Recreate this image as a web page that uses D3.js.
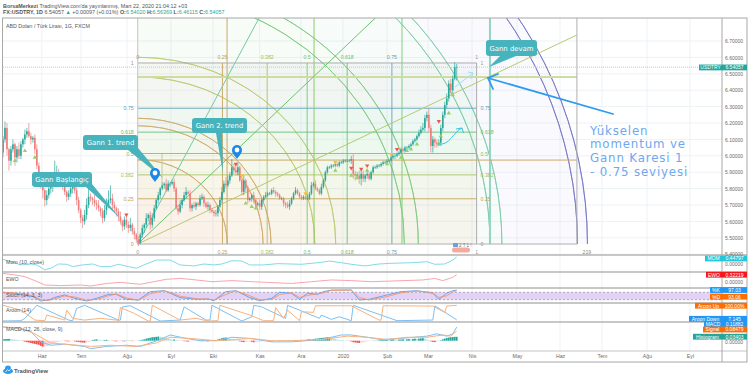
<!DOCTYPE html>
<html>
<head>
<meta charset="utf-8">
<script src="https://cdn.jsdelivr.net/npm/d3@7"></script>
<style>
  html, body { margin: 0; padding: 0; background: #fff; }
  svg { display: block; font-family: "Liberation Sans", Arial, sans-serif; }
  .axis-price path, .axis-price line, .axis-time path, .axis-time line { stroke: none; }
  .axis-price text, .axis-time text { fill: #6a6a6a; }
</style>
</head>
<body>
<div id="chart"></div>
<script>
// candles
const closes = [
  6.10,6.17,6.04,5.97,6.04,6.07,5.99,6.04,6.00,6.07,6.10,6.13,6.15,6.12,6.10,6.11,
  6.04,5.94,5.88,5.82,5.79,5.73,5.76,5.80,5.82,5.85,5.88,5.90,5.86,
  5.84,5.82,5.78,5.75,5.77,5.80,5.82,5.79,5.73,5.67,5.62,5.60,5.64,5.70,5.75,
  5.74,5.73,5.71,5.70,5.68,5.66,5.62,5.67,5.70,5.73,5.74,
  5.70,5.68,5.66,5.63,5.60,5.57,5.61,5.58,5.56,5.58,5.54,5.52,5.49,5.47,
  5.52,5.56,5.58,5.62,5.64,5.58,5.62,5.68,5.73,5.76,5.80,5.82,5.83,
  5.79,5.83,5.83,5.84,5.80,5.68,5.66,5.70,5.73,5.76,5.78,5.77,5.68,5.70,
  5.69,5.71,5.70,5.74,5.75,5.71,5.69,5.70,5.67,5.66,5.65,5.65,5.69,5.73,5.78,
  5.83,5.82,5.85,5.88,5.93,5.91,5.90,5.93,5.85,5.78,5.85,5.80,5.73,5.74,5.76,
  5.73,5.70,5.71,5.69,5.73,5.75,5.76,5.77,5.77,5.79,5.78,5.77,5.76,5.74,5.74,
  5.71,5.70,5.69,5.71,5.74,5.77,5.79,5.77,5.75,5.74,5.75,5.74,5.74,5.77,5.82,5.83,
  5.80,5.79,5.77,5.81,5.85,5.90,5.93,5.93,5.94,5.94,5.95,5.94,5.96,5.96,5.97,5.97,
  5.97,5.97,5.98,5.89,5.88,5.88,5.86,5.89,5.86,5.88,5.89,5.86,5.90,5.93,
  5.93,5.94,5.94,5.95,5.96,5.96,5.97,5.97,5.99,6.00,6.00,6.01,
  6.02,6.04,6.03,6.05,6.05,6.06,6.07,6.09,6.10,6.12,6.14,6.16,
  6.17,6.23,6.25,6.17,6.06,6.10,6.08,6.07,6.08,6.17,6.25,6.31,
  6.35,6.44,6.40,6.47,6.54,6.54057
];
// wick lengths above/below the body, in hundredths of a lira
const wickUp = [
  2,4,3,1,2,3,1,2,4,2, 1,3,2,5,2,1,2,3,2,1, 2,1,3,2,4,3,9,4,2,3, 2,3,1,2,4,2,1,3,2,1,
  2,3,4,5,2,1,3,2,3,1, 2,3,4,6,8,3,2,1,2,3, 1,2,3,2,4,1,2,1,2,1, 2,1,3,1,2,3,2,1,2,1,
  2,1,3,2,1,1,2,1,2,3, 1,2,3,1,2,1,2,1,1,2, 2,1,1,2,1,1,1,2,1,2, 3,2,4,3,2,5,2,4,3,1,
  1,3,1,2,1,1,2,1,1,2, 1,1,2,1,1,1,2,1,1,1, 1,1,1,2,2,1,1,2,1,1, 1,1,1,2,1,2,1,2,1,1,
  2,1,1,1,1,1,1,1,1,1, 1,1,1,1,1,2,3,2,2,3, 2,2,1,2,1,1,1,1,1,1, 1,1,1,1,1,1,1,1,1,1,
  1,1,1,1,1,1,1,1,1,2, 2,3,2,2,4,2,2,1,2,2, 2,2,2,3,2,3,2,3,2
];
const wickDown = [
  3,2,4,6,3,2,5,3,2,2, 2,3,2,1,3,2,3,2,3,2, 5,4,3,2,3,4,3,2,3,2, 3,2,3,2,2,3,2,3,2,3,
  4,2,3,2,2,3,2,3,2,3, 3,2,3,2,2,3,2,3,3,2, 3,2,2,3,2,2,3,2,2,1, 2,3,2,2,3,2,2,1,2,2,
  1,2,1,1,2,1,2,1,2,1, 2,1,2,1,2,2,1,2,1,1, 1,2,1,2,2,1,2,2,2,1, 2,1,2,1,2,1,2,2,2,1,
  2,2,2,2,1,2,2,2,1,2, 2,1,1,1,1,1,1,2,1,1, 1,2,2,1,2,1,1,1,1,1, 1,1,1,1,1,1,1,1,1,1,
  1,1,1,1,1,1,1,1,1,1, 1,1,1,1,1,2,3,3,2,3, 4,2,2,2,1,1,1,1,1,1, 1,1,1,1,1,1,1,2,1,1,
  1,1,1,1,1,1,1,1,1,1, 1,1,2,2,2,4,4,3,2,1, 2,2,2,2,2,2,2,1,8
];

// axis ticks
const priceTicks = [5.4,5.5,5.6,5.7,5.8,5.9,6.0,6.1,6.2,6.3,6.4,6.5,6.6,6.7];
const monthLabels = ['Haz','Tem','Ağu','Eyl','Eki','Kas','Ara','2020','Şub','Mar','Nis','May','Haz','Tem','Ağu','Eyl'];
const monthBars = [19.5,39.2,62.3,84.4,105.5,129,149.7,170.8,193,213.6,235.7,258.3,279.9,301,323.6,345.2];

// signal markers on the candles
const upBars = [6,11,16,122,125,127,167,175,178,183,193,200,203,205,208,219,220,224,226];
const upPrices = [5.97,6.03,5.99,5.71,5.69,5.68,5.91,5.88,5.865,5.91,5.95,5.99,6.03,6.04,6.07,6.07,6.12,6.26,6.37];
const downBars = [62,117,175,180,183,198,219];
const downPrices = [5.64,5.95,5.925,5.92,5.94,6.04,6.21];
const dotBars = [120,152,167,195];
const dotPrices = [5.88,5.77,5.96,6.01];

// gann box and fib speed arcs
const gannLevels = [0,0.25,0.382,0.5,0.618,0.75,1];
const gannLabels = ['0','0.25','0.382','0.5','0.618','0.75','1'];
const gannColors = ['#9a9a9a','#c4a15a','#a3bf5a','#6fc46f','#62bd78','#5c9fb5','#9a9a9a'];
const gannBands = ['#e8c9a0','#dcd89a','#c8e2a4','#b2e2bf','#b0dfd2','#ccd6de'];
const fanEndPrices = [10.45,8.01,6.737];
const fanColors = ['#74c9a3','#6cc46c','#b3cc72'];
const speedBars = [112.6,156.3,200.5,244.7];
const speedColors = ['#cda766','#8fcb6a','#7fce7f','#93d6c0'];
const speedWidths = [1,1,1,2];
const arcBars = [45,63,67,89,99.5,134,141,177,183,221,226];
const arcColors = ['#cda766','#cda766','#cda766','#b6c96c','#b6c96c','#78c878','#78c878','#74c9a3','#74c9a3','#6f6fc4','#6f6fc4'];
const arcFills = ['#e8b98a','#f0e0a0','#e8b98a','#d8e09a','#d8e09a','#a8e0a8','#a8e0a8','#a5e0cc','#a5e0cc','#c8c8f0','#c8c8f0'];

// lower panes, sampled along the bars
const momBars = [0,4,9,14,17,21,24,28,32,35,40,45,49,54,58,63,67,72,77,81,84,89,96,101,106,110,115,120,124,131,138,150,160,164,170,175,182,189,195,206,213,217,222,226,228];
const momValues = [.30,.16,-.04,.02,-.04,-.34,-.24,.02,0,-.14,-.04,.02,-.14,-.14,0,-.14,-.24,.02,.26,.26,.26,-.04,-.10,.02,-.04,.02,.22,.20,-.04,-.04,.04,0,.12,.20,.10,0,-.10,.02,.06,.10,.16,0,.02,.26,.44797];
const ewoBars = [0,6,11,16,21,29,39,44,52,59,69,82,89,94,105,115,125,132,145,155,165,175,185,195,211,217,221,226,228];
const ewoValues = [.38,.31,.23,.05,-.15,-.18,-.15,-.20,-.08,-.03,-.12,.11,.15,.11,0,.05,0,-.03,-.08,0,.08,.05,0,.03,.08,.15,.05,.20,.32219];
const stochBars = [0,5,10,15,19,23,26,31,36,42,47,53,57,62,68,74,81,85,89,98,103,106,112,117,124,129,135,139,145,149,153,158,161,165,175,179,184,193,200,208,216,219,223,226,228];
const stochK = [77,72,58,45,10,18,39,58,31,10,31,63,63,23,18,85,93,66,37,23,26,12,85,93,37,12,31,80,72,23,72,63,85,98,98,18,23,58,85,93,72,23,72,93,97.03];
const stochD = [80,76,65,52,20,14,28,50,42,16,22,52,66,35,16,68,92,75,48,26,25,18,62,92,52,18,22,62,76,38,55,68,76,95,98,38,18,45,76,90,78,38,52,82,93.06];
const aroonDownBars = [0,9,11,17,33,35,37,41,58,59,60,64,79,89,91,102,104,105,120,125,126,130,142,143,159,160,165,169,175,176,198,216,217,228];
const aroonDown = [0,2,17,100,6,2,80,100,6,6,90,97,0,6,90,6,6,100,0,27,100,90,17,100,17,38,10,27,2,100,2,6,97,7.145];
const aroonUpBars = [0,9,16,21,22,31,32,35,41,49,57,58,59,66,73,74,75,89,97,103,108,109,124,131,136,137,141,143,149,150,156,157,175,189,190,191,216,222,223,228];
const aroonUp = [100,69,6,2,38,6,69,17,6,17,6,2,86,48,0,0,100,6,17,0,2,100,38,2,2,86,17,69,2,59,55,97,97,6,6,97,95,55,95,100];
const macdBars = [0,6,14,19,24,31,41,44,52,62,69,79,84,92,99,107,115,124,135,145,160,170,175,183,190,200,213,218,223,226,228];
const macdLine = [.12,.11,.08,-.01,-.04,-.03,-.05,-.07,-.05,-.04,-.05,.01,.05,.02,0,0,.03,.02,-.01,-.01,.01,.05,.05,.03,.01,.02,.04,.06,.04,.06,.11882];
const signalBars = [0,9,16,24,31,44,54,67,77,84,94,107,117,124,135,145,160,173,183,193,203,213,221,225,228];
const signalLine = [.12,.11,.06,-.02,-.03,-.05,-.04,-.05,-.02,.03,.02,0,.01,.02,0,0,.01,.04,.03,.01,.03,.03,.05,.04,.08479];
const histValues = [
  .012,.014,.015,.016,.014,.012,.010,.008,.006,.004,
  -.004,-.008,-.012,-.016,-.020,-.024,-.028,-.032,-.036,-.045,
  -.052,-.050,-.048,-.040,-.034,-.028,-.020,-.014,-.008,-.004,
  -.002,-.003,-.005,-.006,-.004,-.003,-.006,-.010,-.012,-.014,
  -.016,-.018,-.014,-.010,-.008,.006,.010,.012,.010,.006,
  .004,.006,.008,.006,.002,-.002,-.004,-.006,-.004,-.002,
  -.004,-.006,.002,.002,-.002,-.004,-.004,-.002,.002,.004,
  .008,.012,.018,.022,.026,.030,.032,.034,.036,.034,
  .032,.030,.026,.020,.014,.010,.010,.008,.006,.002,
  -.002,-.004,-.006,-.008,-.006,-.004,-.004,-.002,.002,-.002,
  -.004,-.002,-.004,-.006,-.004,-.002,.002,.006,.010,.016,
  .022,.026,.028,.024,.018,.012,.008,.004,-.002,-.006,
  -.010,-.012,-.010,-.008,-.006,-.010,-.014,-.012,-.010,-.008,
  -.006,-.004,.002,-.002,-.004,-.006,-.004,-.002,-.002,-.004,
  -.004,-.002,.002,.002,.004,.004,.002,-.002,-.002,.002,
  .004,.004,.006,.010,.014,.012,.014,.018,.018,.022,
  .024,.026,.028,.030,.030,.028,.022,.016,.010,.008,
  .006,.004,.002,.002,-.002,-.006,-.012,-.016,-.018,-.020,
  -.018,-.014,-.010,-.006,-.004,-.002,.002,.002,.002,.004,
  .006,.006,.008,.008,.006,.010,.012,.010,.008,.010,
  .010,.012,.008,.012,.014,.012,.016,.018,.016,.018,
  .020,.022,.018,.010,.004,-.006,-.010,-.012,-.008,-.004,
  .004,.012,.018,.024,.028,.030,.032,.034,.03403
];

const width = 750, height = 378;
const frameLeft = 3, axisX = 722, frameTop = 18, frameRight = 747, frameBottom = 362;
const panes = [255,272,288,303,322,351];

const svg = d3.select('#chart').append('svg').attr('width', width).attr('height', height);
const defs = svg.append('defs');
defs.append('clipPath').attr('id', 'main-clip').append('rect')
  .attr('x', frameLeft).attr('y', frameTop).attr('width', axisX - frameLeft).attr('height', panes[0] - frameTop);

const xBar = d3.scaleLinear().domain([0, 360]).range([frameLeft, frameLeft + 360 * 1.99]);
const yPrice = d3.scaleLinear().domain([5.4, 6.7]).range([254.2, 41]);
const yMom = d3.scaleLinear().domain([0, 0.448]).range([264.3, 257]);
const yEwo = d3.scaleLinear().domain([0, 0.322]).range([281.7, 274.7]);
const yStoch = d3.scaleLinear().domain([0, 100]).range([302.2, 289.8]);
const yAroon = d3.scaleLinear().domain([0, 100]).range([321, 305.3]);
const yMacd = d3.scaleLinear().domain([0, 0.0848]).range([340.7, 331]);

// grid
const grid = svg.append('g');
grid.selectAll('.vgrid').data(monthBars).enter().append('line')
  .attr('x1', d => xBar(d)).attr('x2', d => xBar(d))
  .attr('y1', frameTop).attr('y2', panes[5]).attr('stroke', '#edf2f6');
grid.selectAll('.hgrid').data(priceTicks).enter().append('line')
  .attr('x1', frameLeft).attr('x2', axisX)
  .attr('y1', d => yPrice(d)).attr('y2', d => yPrice(d)).attr('stroke', '#edf2f6');

// everything inside the price pane is clipped to it
const main = svg.append('g').attr('clip-path', 'url(#main-clip)');

const originBar = 67.7, originPrice = 5.462, boxEndBar = 238, boxTopPrice = 6.566, bigEndBar = 288.4;
const ox = xBar(originBar), oy = yPrice(originPrice);
const gx = d3.scaleLinear().domain([0, 1]).range([ox, xBar(boxEndBar)]);
const gy = d3.scaleLinear().domain([0, 1]).range([oy, yPrice(boxTopPrice)]);

// arc bands, squashed a little as in the drawing tool
const aspect = 1.06;
const ringFill = d3.arc().startAngle(0).endAngle(Math.PI / 2);
arcBars.forEach(function(b, i) {
  const r1 = xBar(b) - xBar(0);
  const r0 = i ? xBar(arcBars[i - 1]) - xBar(0) : 0;
  main.append('path')
    .attr('transform', `translate(${ox},${oy}) scale(1,${1 / aspect})`)
    .attr('d', ringFill({ innerRadius: r0, outerRadius: r1 }))
    .attr('fill', arcFills[i]).attr('fill-opacity', 0.09);
});

// gann box bands
gannBands.forEach(function(c, i) {
  main.append('rect').attr('x', ox).attr('width', gx(1) - ox)
    .attr('y', gy(gannLevels[i + 1])).attr('height', gy(gannLevels[i]) - gy(gannLevels[i + 1]))
    .attr('fill', c).attr('fill-opacity', 0.14);
});

// arcs outlines
arcBars.forEach(function(b, i) {
  const r = xBar(b) - xBar(0);
  main.append('path')
    .attr('transform', `translate(${ox},${oy}) scale(1,${1 / aspect})`)
    .attr('d', d3.arc().startAngle(0).endAngle(Math.PI / 2).innerRadius(r).outerRadius(r)())
    .attr('fill', 'none').attr('stroke', arcColors[i]).attr('stroke-width', 0.9).attr('stroke-opacity', 0.85);
});

// gann box grid
gannLevels.forEach(function(l, i) {
  if (l === 0) return;
  main.append('line').attr('x1', gx(l)).attr('x2', gx(l)).attr('y1', gy(1)).attr('y2', oy)
    .attr('stroke', i === 6 ? '#a0a0a0' : gannColors[i]).attr('stroke-opacity', 0.85);
  main.append('line').attr('x1', ox).attr('x2', gx(1)).attr('y1', gy(l)).attr('y2', gy(l))
    .attr('stroke', i === 6 ? '#a0a0a0' : gannColors[i]).attr('stroke-opacity', 0.85);
});

// speed box: verticals, long horizontals, edges
speedBars.forEach(function(b, i) {
  main.append('line').attr('x1', xBar(b)).attr('x2', xBar(b)).attr('y1', frameTop).attr('y2', oy)
    .attr('stroke', speedColors[i]).attr('stroke-width', speedWidths[i]);
});
main.append('line').attr('x1', ox).attr('x2', xBar(bigEndBar)).attr('y1', yPrice(5.974)).attr('y2', yPrice(5.974)).attr('stroke', '#cda766');
main.append('line').attr('x1', ox).attr('x2', xBar(bigEndBar)).attr('y1', yPrice(6.48)).attr('y2', yPrice(6.48)).attr('stroke', '#cfdca0').attr('stroke-width', 2);
main.append('line').attr('x1', ox).attr('x2', ox).attr('y1', frameTop).attr('y2', oy).attr('stroke', '#c4c4c4');
main.append('line').attr('x1', ox).attr('x2', xBar(bigEndBar)).attr('y1', oy).attr('y2', oy).attr('stroke', '#b0b0b0');
main.append('line').attr('x1', xBar(bigEndBar)).attr('x2', xBar(bigEndBar)).attr('y1', frameTop).attr('y2', oy).attr('stroke', '#b0b0b0');

// fan from the origin
fanEndPrices.forEach(function(p, i) {
  main.append('line').attr('x1', ox).attr('y1', oy)
    .attr('x2', xBar(bigEndBar)).attr('y2', yPrice(p))
    .attr('stroke', fanColors[i]);
});

// last price line
main.append('line').attr('x1', frameLeft).attr('x2', axisX)
  .attr('y1', yPrice(6.54057)).attr('y2', yPrice(6.54057))
  .attr('stroke', '#9fd8d2').attr('stroke-width', 1).attr('stroke-dasharray', '1,1');

// candles
const bars = closes.map(function(c, i) {
  const o = i ? closes[i - 1] : 6.02;
  return { i: i, o: o, c: c,
    h: Math.max(o, c) + wickUp[i] / 100,
    l: Math.min(o, c) - wickDown[i] / 100 };
});
const colorUp = '#2aa79b', colorDown = '#ee7d7d';
main.selectAll('.wick').data(bars).enter().append('line')
  .attr('x1', d => xBar(d.i)).attr('x2', d => xBar(d.i))
  .attr('y1', d => yPrice(d.h)).attr('y2', d => yPrice(d.l))
  .attr('stroke', d => d.c >= d.o ? colorUp : colorDown).attr('stroke-width', 0.7);
main.selectAll('.body').data(bars).enter().append('rect')
  .attr('x', d => xBar(d.i) - 0.8).attr('width', 1.6)
  .attr('y', d => yPrice(Math.max(d.o, d.c)))
  .attr('height', d => Math.max(0.6, Math.abs(yPrice(d.o) - yPrice(d.c))))
  .attr('fill', d => d.c >= d.o ? colorUp : colorDown);

// markers
const tri = d3.symbol().type(d3.symbolTriangle).size(8);
upBars.forEach(function(b, i) {
  main.append('path').attr('d', tri()).attr('fill', '#97cf68')
    .attr('transform', `translate(${xBar(b)},${yPrice(upPrices[i])})`);
});
downBars.forEach(function(b, i) {
  main.append('path').attr('d', tri()).attr('fill', '#ef5350')
    .attr('transform', `translate(${xBar(b)},${yPrice(downPrices[i])}) rotate(180)`);
});
dotBars.forEach(function(b, i) {
  main.append('path').attr('d', tri()).attr('fill', '#fbc02d')
    .attr('transform', `translate(${xBar(b)},${yPrice(dotPrices[i])}) rotate(180)`);
});

// box labels
const labelG = svg.append('g').style('font-size', '5.2px');
gannLevels.forEach(function(l, i) {
  labelG.append('text').attr('x', ox - 4).attr('y', gy(l) + 2).attr('text-anchor', 'end').attr('fill', gannColors[i]).text(gannLabels[i]);
  labelG.append('text').attr('x', gx(1) + 4).attr('y', gy(l) + 2).attr('fill', gannColors[i]).text(gannLabels[i]);
  labelG.append('text').attr('x', gx(l)).attr('y', oy + 10).attr('text-anchor', 'middle').attr('fill', gannColors[i]).text(gannLabels[i]);
  labelG.append('text').attr('x', gx(l)).attr('y', gy(1) - 4).attr('text-anchor', 'middle').attr('fill', gannColors[i]).text(gannLabels[i]);
});
labelG.append('text').attr('x', xBar(bigEndBar) + 10).attr('y', oy + 10).attr('text-anchor', 'middle').attr('fill', '#8a8a8a').text('219');

// events flag on the time line
svg.append('rect').attr('x', 453).attr('y', 243).attr('width', 5).attr('height', 4).attr('fill', '#6f9fe0');
svg.append('text').attr('x', 459).attr('y', 247).style('font-size', '4.5px').attr('fill', '#777').text('2 T 1 !');
svg.append('rect').attr('x', 452).attr('y', 247.5).attr('width', 18).attr('height', 5).attr('rx', 2.5).attr('fill', '#f7a99c');

// lower panes
function linePane(barsArr, values, scale, color, strokeWidth) {
  const line = d3.line().x((d, i) => xBar(barsArr[i])).y(d => scale(d));
  svg.append('path').datum(values).attr('d', line).attr('fill', 'none').attr('stroke', color).attr('stroke-width', strokeWidth || 1);
}
linePane(momBars, momValues, yMom, '#7fdbe6');
linePane(ewoBars, ewoValues, yEwo, '#f9a6ac');

svg.append('rect').attr('x', frameLeft).attr('width', axisX - frameLeft).attr('y', yStoch(80)).attr('height', yStoch(20) - yStoch(80)).attr('fill', '#e3d2f5');
[80, 20].forEach(function(l) {
  svg.append('line').attr('x1', frameLeft).attr('x2', axisX).attr('y1', yStoch(l)).attr('y2', yStoch(l))
    .attr('stroke', '#8f8f9f').attr('stroke-width', 0.7).attr('stroke-dasharray', '2,2');
});
linePane(stochBars, stochK, yStoch, '#5c9fe0', 0.9);
linePane(stochBars, stochD, yStoch, '#f4956a', 0.9);
linePane(aroonDownBars, aroonDown, yAroon, '#7cc0f2');
linePane(aroonUpBars, aroonUp, yAroon, '#f9b27c');

svg.selectAll('.hist').data(histValues).enter().append('rect')
  .attr('x', (d, i) => xBar(i) - 0.9).attr('width', 1.8)
  .attr('y', d => Math.min(yMacd(0), yMacd(d)))
  .attr('height', d => Math.abs(yMacd(d) - yMacd(0)))
  .attr('fill', function(d, i) {
    const rising = i === 0 || d >= histValues[i - 1];
    if (d >= 0) return rising ? '#26a69a' : '#b2dfdb';
    return rising ? '#ffcdd2' : '#ef5350';
  });
linePane(macdBars, macdLine, yMacd, '#7cc0f2');
linePane(signalBars, signalLine, yMacd, '#f9b27c');

// annotations on top of the candles
svg.append('line').attr('x1', 162).attr('x2', 162).attr('y1', 154).attr('y2', 185).attr('stroke', '#b5cfa5');

function callout(x, y, w, h, tail, text) {
  const fill = '#46b3bd';
  const g = svg.append('g');
  g.append('polygon').attr('points', tail.map(p => p.join(',')).join(' ')).attr('fill', fill);
  g.append('rect').attr('x', x).attr('y', y).attr('width', w).attr('height', h).attr('rx', 3).attr('fill', fill);
  g.append('text').attr('x', x + w / 2).attr('y', y + h / 2 + 2.5).attr('text-anchor', 'middle')
    .attr('fill', '#fff').style('font-size', '6.9px').style('font-family', '"DejaVu Sans"').text(text);
}
callout(32, 172, 60, 15, [[86, 187], [92, 184], [120, 218]], 'Gann Başlangıç');
callout(83, 135, 55, 15, [[128, 150], [138, 148], [163, 178]], 'Gann 1. trend');
callout(192, 118, 55, 15, [[216, 133], [222, 133], [223, 173]], 'Gann 2. trend');
callout(486, 40, 51, 16, [[500, 56], [516, 56], [489, 67]], 'Gann devam');

// map pins
function pin(x, y) {
  svg.append('path')
    .attr('d', `M${x},${y + 9} C${x - 1.5},${y + 6} ${x - 5},${y + 4} ${x - 5},${y} A5,5 0 1 1 ${x + 5},${y} C${x + 5},${y + 4} ${x + 1.5},${y + 6} ${x},${y + 9} Z`)
    .attr('fill', '#1e88e5');
  svg.append('circle').attr('cx', x).attr('cy', y).attr('r', 2.4).attr('fill', '#fff');
}
pin(155, 173);
pin(237, 150);

// big arrow and note
const arrow = svg.append('g').attr('fill', 'none').attr('stroke', '#2e9bf0').attr('stroke-width', 1.8).attr('stroke-linecap', 'round');
arrow.append('line').attr('x1', 613).attr('y1', 114).attr('x2', 488).attr('y2', 78);
arrow.append('path').attr('d', 'M498,74 L488,78 L493,89');

const note = ['Yükselen', 'momentum ve', 'Gann Karesi 1', '- 0.75 seviyesi'];
svg.selectAll('.note').data(note).enter().append('text')
  .attr('x', 590).attr('y', (d, i) => 134.5 + i * 13.9)
  .attr('fill', '#6ea8f0').style('font-size', '11.8px').style('letter-spacing', '0.85px').style('font-family', '"DejaVu Sans"')
  .text(d => d);

// small cyan arrows
const cyan = svg.append('g').attr('fill', 'none').attr('stroke', '#3cc4dc').attr('stroke-width', 1);
cyan.append('path').attr('d', 'M438,144 C450,146 453,132 462,128 M456,129 L462,128 L463.5,133');
cyan.append('path').attr('d', 'M455,87 L473,73 M468,72 L473,73 L471,79').attr('stroke', '#a4dde8');

// frame and pane dividers
panes.slice(0, 5).forEach(function(y) {
  svg.append('line').attr('x1', frameLeft).attr('x2', frameRight).attr('y1', y).attr('y2', y).attr('stroke', '#b4b4b4').attr('stroke-width', 1.4);
});
svg.append('line').attr('x1', frameLeft).attr('x2', frameRight).attr('y1', panes[5]).attr('y2', panes[5]).attr('stroke', '#c4c4c4');
svg.append('rect').attr('x', frameLeft - 0.5).attr('y', frameTop).attr('width', frameRight - frameLeft + 0.5).attr('height', frameBottom - frameTop)
  .attr('fill', 'none').attr('stroke', '#a8a8a8');
svg.append('line').attr('x1', axisX).attr('x2', axisX).attr('y1', frameTop).attr('y2', frameBottom).attr('stroke', '#a8a8a8');

// axes
const axisPrice = d3.axisRight(yPrice).tickValues(priceTicks).tickFormat(d3.format('.5f')).tickSize(0).tickPadding(3);
svg.append('g').attr('class', 'axis-price').attr('transform', `translate(${axisX},0)`).call(axisPrice)
  .selectAll('text').style('font-size', '5px').style('font-family', 'inherit');
const axisTime = d3.axisBottom(xBar).tickValues(monthBars).tickFormat((d, i) => monthLabels[i]).tickSize(0).tickPadding(3);
svg.append('g').attr('class', 'axis-time').attr('transform', `translate(0,${panes[5]})`).call(axisTime)
  .selectAll('text').style('font-size', '5.2px').style('font-family', 'inherit');

// zero ticks of the lower panes
[yMom(0), yEwo(0), yMacd(0) + 0.8].forEach(function(y) {
  svg.append('text').attr('x', axisX + 3).attr('y', y + 2).style('font-size', '5px').attr('fill', '#6a6a6a').text('0.00000');
});

// right side labels
function tag(y, name, value, color, nameWidth) {
  const h = 5.8;
  svg.append('rect').attr('x', axisX - nameWidth).attr('y', y - h / 2).attr('width', nameWidth + 25).attr('height', h).attr('fill', color);
  svg.append('text').attr('x', axisX - nameWidth / 2).attr('y', y + 1.8).attr('text-anchor', 'middle').attr('fill', '#fff').style('font-size', '5px').text(name);
  svg.append('text').attr('x', axisX + 12.5).attr('y', y + 1.8).attr('text-anchor', 'middle').attr('fill', '#fff').style('font-size', '5px').text(value);
}
tag(yPrice(6.54057) + 0.3, 'USDTRY', '6.54057', '#26a69a', 23);
tag(258.5, 'MOM', '0.44797', '#26c6da', 17);
tag(274.7, 'EWO', '0.32219', '#f5161b', 16);
tag(290, '%K', '97.03', '#2196f3', 12);
tag(296.7, '%D', '93.06', '#ff6d00', 12);
tag(305.7, 'Aroon Up', '100.00%', '#ff6d00', 27);
tag(324, 'MACD', '0.11882', '#2196f3', 18);
tag(318.8, 'Aroon Down', '7.145', '#2196f3', 33);
tag(329.5, 'Signal', '0.08479', '#ff6d00', 19);
tag(336.7, 'Histogram', '0.03403', '#26a69a', 29);

// header
const hdr = svg.append('text').attr('x', 3).attr('y', 7.5).style('font-size', '5.4px').attr('fill', '#555');
hdr.append('tspan').style('font-weight', 'bold').text('BorsaMerkezi');
hdr.append('tspan').text(' TradingView.com\'da yayınlanmış, Mart 22, 2020 21:04:12 +03');

const hdr2 = svg.append('text').attr('x', 3).attr('y', 14).style('font-size', '5.4px').attr('fill', '#555');
hdr2.append('tspan').style('font-weight', 'bold').text('FX:USDTRY, 1D');
hdr2.append('tspan').text(' 6.54057 ');
hdr2.append('tspan').attr('fill', '#26a69a').text('▲');
hdr2.append('tspan').text(' +0.00097 (+0.01%) ');
[['O:', '6.54020'], ['H:', '6.56369'], ['L:', '6.46115'], ['C:', '6.54057']].forEach(function(p) {
  hdr2.append('tspan').style('font-weight', 'bold').text(p[0]);
  hdr2.append('tspan').attr('fill', '#26a69a').text(p[1] + ' ');
});

// pane legends
const legends = [[6, 27.5, 'ABD Doları / Türk Lirası, 1G, FXCM'], [6, 264, 'Mom (10, close)'], [6, 281, 'EWO'], [6, 297, 'Stoch (14, 3, 3)'], [6, 312, 'Aroon (14)'], [6, 331, 'MACD (12, 26, close, 9)']];
legends.forEach(function(l) {
  svg.append('text').attr('x', l[0]).attr('y', l[1]).style('font-size', '5.3px').attr('fill', '#555').text(l[2]);
});

// logo
const logo = svg.append('g');
logo.append('ellipse').attr('cx', 8).attr('cy', 371).attr('rx', 5).attr('ry', 3).attr('fill', '#2e9bf0');
logo.append('circle').attr('cx', 8).attr('cy', 368.5).attr('r', 3).attr('fill', '#2e9bf0');
logo.append('path').attr('d', 'M5.5,372 L7.5,369.5 L9,371 L11,368.5').attr('fill', 'none').attr('stroke', '#fff').attr('stroke-width', 0.7);
logo.append('text').attr('x', 14).attr('y', 372.5).style('font-size', '5.8px').style('font-weight', 'bold').attr('fill', '#555').text('TradingView');
</script>
</body>
</html>
